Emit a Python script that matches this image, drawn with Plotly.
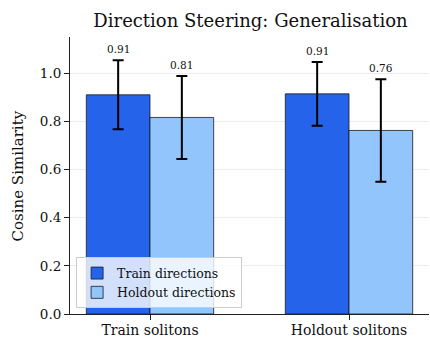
import plotly.graph_objects as go

categories = ["Train solitons", "Holdout solitons"]
series_names = ["Train directions", "Holdout directions"]
train_means = [0.91, 0.914]
train_errs = [0.143, 0.132]
holdout_means = [0.816, 0.762]
holdout_errs = [0.172, 0.213]
label_train = ["0.91", "0.91"]
label_holdout = ["0.81", "0.76"]
colors = ["#2563eb", "#93c5fd"]

FONT = "DejaVu Serif"
bar_w = 0.32
xs = list(range(len(categories)))

fig = go.Figure()
for name, means, errs, col in [
    (series_names[0], train_means, train_errs, colors[0]),
    (series_names[1], holdout_means, holdout_errs, colors[1]),
]:
    fig.add_trace(go.Bar(
        x=xs, y=means, name=name,
        marker=dict(color=col, line=dict(color="#1a1a1a", width=0.8)),
        error_y=dict(type="data", array=errs, visible=True, color="black",
                     thickness=2, width=5.5),
    ))

annotations = []
for i in xs:
    for off, means, errs, labs in [(-bar_w / 2, train_means, train_errs, label_train),
                                   (bar_w / 2, holdout_means, holdout_errs, label_holdout)]:
        annotations.append(dict(
            x=i + off, y=means[i] + errs[i], text=labs[i], showarrow=False,
            yanchor="bottom", yshift=3, font=dict(family=FONT, size=10.5, color="#111"),
            xref="x", yref="y"))

annotations.append(dict(
    x=-0.145, y=0.5, xref="paper", yref="paper", text="Cosine Similarity",
    textangle=-90, showarrow=False, xanchor="center", yanchor="middle",
    font=dict(family=FONT, size=15, color="#111")))

fig.update_layout(
    width=430, height=338,
    margin=dict(l=70, r=1, t=37, b=24),
    paper_bgcolor="white", plot_bgcolor="white",
    barmode="group", bargap=1 - 2 * bar_w, bargroupgap=0,
    font=dict(family=FONT, color="#111"),
    title=dict(text="Direction Steering: Generalisation", x=0.5826, xanchor="center",
               xref="container", y=0.939, yanchor="middle",
               font=dict(family=FONT, size=18, color="#111")),
    annotations=annotations,
    legend=dict(x=0.017, y=0.02, xanchor="left", yanchor="bottom",
                bgcolor="rgba(255,255,255,0.8)", bordercolor="#cccccc", borderwidth=1,
                font=dict(family=FONT, size=12.5, color="#111"),
                itemwidth=30, tracegroupgap=0),
    showlegend=True,
)
fig.update_xaxes(
    tickvals=xs, ticktext=categories, range=[-0.402, 1.402], automargin=False,
    showline=True, linecolor="#222", linewidth=1, ticks="outside", ticklen=5,
    tickcolor="#222", showgrid=False, zeroline=False, ticklabelstandoff=-2,
    tickfont=dict(family=FONT, size=14, color="#111"),
)
fig.update_yaxes(
    range=[0, 1.15], tickvals=[0, 0.2, 0.4, 0.6, 0.8, 1.0],
    ticktext=["0.0", "0.2", "0.4", "0.6", "0.8", "1.0"], automargin=False,
    showline=True, linecolor="#222", linewidth=1, ticks="outside", ticklen=5,
    tickcolor="#222", showgrid=True, gridcolor="#ececec", gridwidth=1, zeroline=False,
    tickfont=dict(family=FONT, size=13.5, color="#111"),
)

fig.write_html("out.html", config={"displayModeBar": False},
               post_script="document.body.style.margin='0';document.body.style.overflow='hidden';")
